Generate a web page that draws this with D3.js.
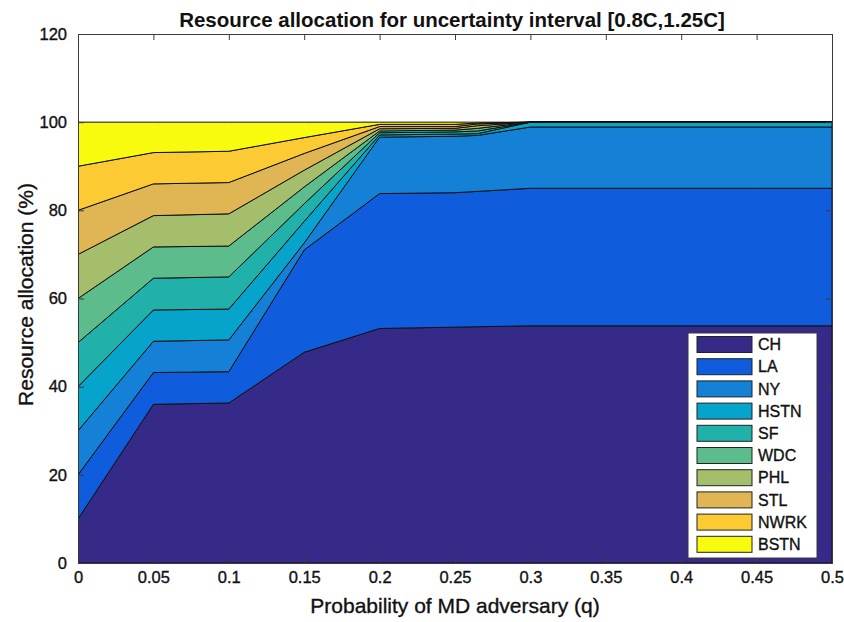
<!DOCTYPE html>
<html>
<head>
<meta charset="utf-8">
<script src="https://cdn.jsdelivr.net/npm/d3@7"></script>
<style>
  html, body { margin: 0; padding: 0; background: #fff; }
  svg { display: block; font-family: "Liberation Sans", Arial, Helvetica, sans-serif; }
  .lbl { stroke: #111; stroke-width: 0.35px; paint-order: stroke; }
</style>
</head>
<body>
<svg id="chart" width="844" height="622"></svg>
<script>
// Probability of MD adversary (q) at which allocations were computed
const qValues = [0, 0.05, 0.1, 0.15, 0.2, 0.25, 0.265, 0.3, 0.35, 0.4, 0.45, 0.5];

// City names, bottom-to-top stacking order
const cities = ["CH", "LA", "NY", "HSTN", "SF", "WDC", "PHL", "STL", "NWRK", "BSTN"];

// Resource allocation (%) per city at each q
const CH   = [10, 36.0, 36.3, 47.8, 53.2, 53.5, 53.6, 53.8, 53.8, 53.8, 53.8, 53.8];
const LA   = [10,  7.2,  7.1, 23.2, 30.6, 30.5, 30.7, 31.2, 31.2, 31.2, 31.2, 31.2];
const NY   = [10,  7.1,  7.2,  1.6, 12.8, 12.8, 12.7, 13.9, 13.9, 13.9, 13.9, 13.9];
const HSTN = [10,  7.1,  7.0,  4.9,  0.5,  0.5,  0.4,  1.1,  1.1,  1.1,  1.1,  1.1];
const SF   = [10,  7.2,  7.3,  4.0,  0.5,  0.5,  0.6,  0,    0,    0,    0,    0  ];
const WDC  = [10,  7.1,  7.0,  3.8,  0.4,  0.4,  0.6,  0,    0,    0,    0,    0  ];
const PHL  = [10,  7.1,  7.3,  3.8,  0.5,  0.4,  0.6,  0,    0,    0,    0,    0  ];
const STL  = [10,  7.2,  7.1,  3.8,  0.5,  0.4,  0.4,  0,    0,    0,    0,    0  ];
const NWRK = [10,  7.1,  7.1,  3.6,  0.5,  0.5,  0.2,  0,    0,    0,    0,    0  ];
const BSTN = [10,  6.9,  6.6,  3.5,  0.5,  0.5,  0.2,  0,    0,    0,    0,    0  ];

// Axis ticks
const xTicks = [0, 0.05, 0.1, 0.15, 0.2, 0.25, 0.3, 0.35, 0.4, 0.45, 0.5];
const xTickLabels = ["0", "0.05", "0.1", "0.15", "0.2", "0.25", "0.3", "0.35", "0.4", "0.45", "0.5"];
const yTicks = [0, 20, 40, 60, 80, 100, 120];

// Parula-style palette
const colors = ["#352a87", "#0f5cdd", "#1481d6", "#06a4ca", "#20b1ab",
                "#5cbc8b", "#a5be6b", "#e0b654", "#fccb33", "#f9fb0e"];

const seriesByCity = { CH, LA, NY, HSTN, SF, WDC, PHL, STL, NWRK, BSTN };

const rows = qValues.map((q, i) => {
  const r = { q };
  cities.forEach(c => { r[c] = seriesByCity[c][i]; });
  return r;
});

const svg = d3.select("#chart");
const margin = { left: 78, right: 844 - 832, top: 34, bottom: 622 - 563 };
const W = 844, H = 622;
const x = d3.scaleLinear().domain([0, 0.5]).range([margin.left, W - margin.right]);
const y = d3.scaleLinear().domain([0, 120]).range([H - margin.bottom, margin.top]);

svg.append("defs").append("clipPath").attr("id", "plotClip")
  .append("rect")
  .attr("x", x(0)).attr("y", y(120))
  .attr("width", x(0.5) - x(0)).attr("height", y(0) - y(120));

const stacked = d3.stack().keys(cities)(rows);

const area = d3.area()
  .x(d => x(d.data.q))
  .y0(d => y(d[0]))
  .y1(d => y(d[1]));

svg.append("g").attr("clip-path", "url(#plotClip)")
  .selectAll("path")
  .data(stacked)
  .join("path")
  .attr("d", area)
  .attr("fill", (d, i) => colors[i])
  .attr("stroke", "#111")
  .attr("stroke-width", 1)
  .attr("stroke-linejoin", "round");

// Axes (ticks point inward, box on all four sides)
const axisColor = "#3a3a3a";
const fmt = d => xTickLabels[xTicks.indexOf(d)];

const gx = svg.append("g")
  .attr("transform", `translate(0,${y(0)})`)
  .call(d3.axisBottom(x).tickValues(xTicks).tickFormat(fmt).tickSize(-6).tickPadding(8));
const gxTop = svg.append("g")
  .attr("transform", `translate(0,${y(120)})`)
  .call(d3.axisTop(x).tickValues(xTicks).tickFormat("").tickSize(-6));
const gy = svg.append("g")
  .attr("transform", `translate(${x(0)},0)`)
  .call(d3.axisLeft(y).tickValues(yTicks).tickSize(-6).tickPadding(11));
const gyRight = svg.append("g")
  .attr("transform", `translate(${x(0.5)},0)`)
  .call(d3.axisRight(y).tickValues(yTicks).tickFormat("").tickSize(-6));

[gx, gxTop, gy, gyRight].forEach(g => {
  g.selectAll(".domain").attr("stroke", axisColor).attr("stroke-width", 1);
  g.selectAll(".tick line").attr("stroke", axisColor).attr("stroke-width", 1);
  g.selectAll("text").attr("fill", "#111").attr("font-size", 16.5)
    .attr("class", "lbl")
    .attr("font-family", "'Liberation Sans', Arial, sans-serif");
});

// Title and axis labels
svg.append("text")
  .attr("x", (x(0) + x(0.5)) / 2 - 3).attr("y", 27)
  .attr("text-anchor", "middle")
  .attr("font-size", 20.5).attr("font-weight", "bold").attr("fill", "#111")
  .text("Resource allocation for uncertainty interval [0.8C,1.25C]");

svg.append("text")
  .attr("class", "lbl")
  .attr("x", (x(0) + x(0.5)) / 2).attr("y", 613)
  .attr("text-anchor", "middle")
  .attr("font-size", 21).attr("fill", "#111")
  .text("Probability of MD adversary (q)");

svg.append("text")
  .attr("class", "lbl")
  .attr("transform", `translate(33,${(y(0) + y(120)) / 2 - 4}) rotate(-90)`)
  .attr("text-anchor", "middle")
  .attr("font-size", 21).attr("fill", "#111")
  .text("Resource allocation (%)");

// Legend
const lg = svg.append("g").attr("transform", "translate(688,333)");
lg.append("rect")
  .attr("width", 129).attr("height", 225)
  .attr("fill", "#fff").attr("stroke", "#3a3a3a").attr("stroke-width", 1);
const rowH = 22.2;
const items = lg.selectAll("g.item").data(cities).join("g")
  .attr("class", "item")
  .attr("transform", (d, i) => `translate(0,${11.5 + i * rowH})`);
items.append("rect")
  .attr("x", 9).attr("y", -8).attr("width", 55).attr("height", 16)
  .attr("fill", (d, i) => colors[i]).attr("stroke", "#222").attr("stroke-width", 1);
items.append("text")
  .attr("class", "lbl")
  .attr("x", 70).attr("y", 0).attr("dy", "0.36em")
  .attr("font-size", 16).attr("fill", "#111")
  .text(d => d);
</script>
</body>
</html>
